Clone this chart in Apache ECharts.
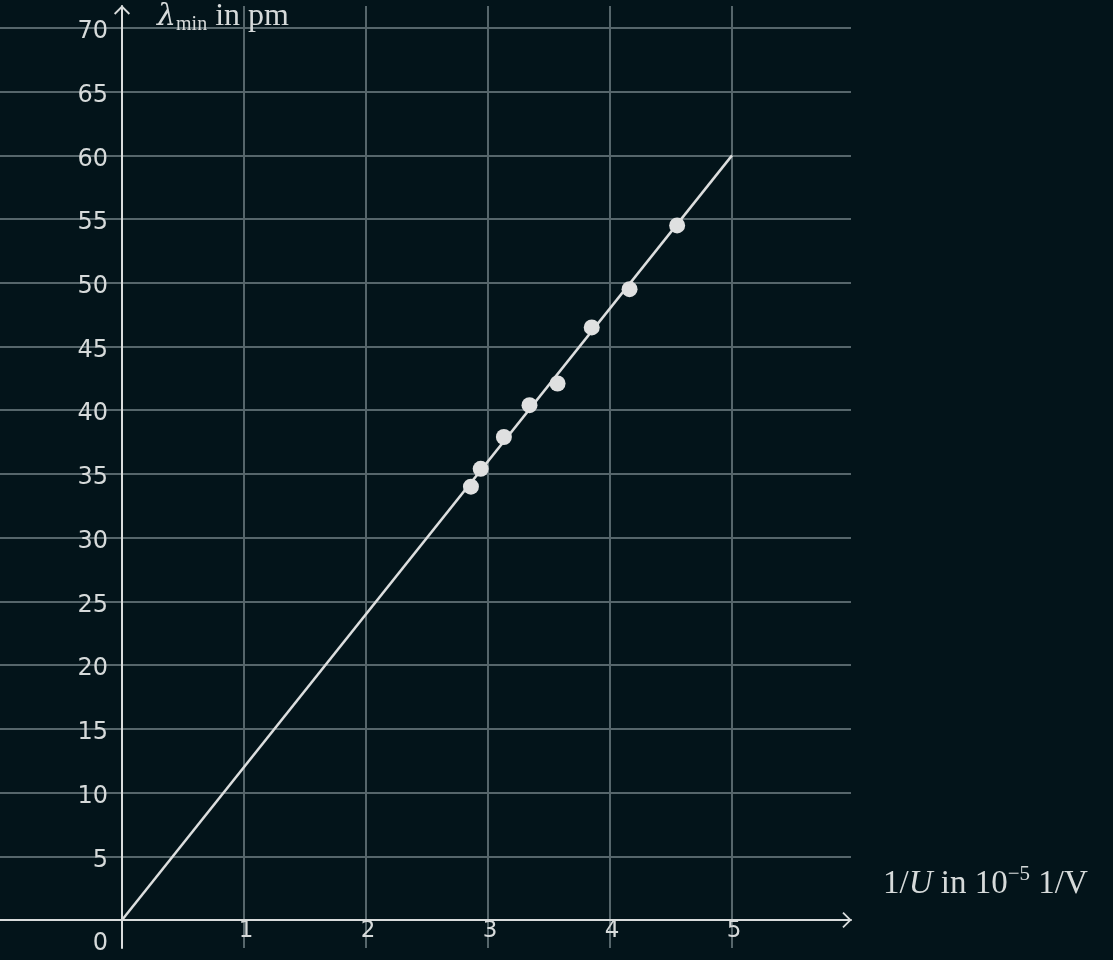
<!DOCTYPE html>
<html>
<head>
<meta charset="utf-8">
<script src="https://cdn.jsdelivr.net/npm/echarts@6/dist/echarts.min.js"></script>
<style>
html,body{margin:0;padding:0;background:#03141a;}
#main{width:1113px;height:960px;}
</style>
</head>
<body>
<div id="main"></div>
<script>
// measured points: 1/U in 10^-5 1/V, lambda_min in pm
const invU = [2.86, 2.94, 3.13, 3.34, 3.57, 3.85, 4.16, 4.55];
const lambdaMin = [34.0, 35.4, 37.9, 40.4, 42.1, 46.5, 49.5, 54.5];
// fitted line through origin
const fitX = [0, 5];
const fitY = [0, 60];
// axis ticks
const xTicks = [1, 2, 3, 4, 5];
const yTicks = [0, 5, 10, 15, 20, 25, 30, 35, 40, 45, 50, 55, 60, 65, 70];

const BG = '#03141a';
const GRID = '#56666b';
const AXIS = '#d9dcdc';
const TXT = '#d6dada';
const chevron = 'path://M10,0 L20,10 L18.4,11.6 L10,3.2 L1.6,11.6 L0,10 Z';

const chart = echarts.init(document.getElementById('main'));
chart.setOption({
  backgroundColor: BG,
  animation: false,
  grid: {left: 0, top: 6, width: 851, height: 942, containLabel: false, outerBoundsMode: 'none'},
  xAxis: {
    type: 'value',
    min: -1,
    max: 5.975,
    interval: 1,
    offset: -28,
    axisLine: {
      show: true, onZero: false,
      symbol: ['none', chevron], symbolSize: [16, 10], symbolOffset: [0, -4],
      lineStyle: {color: AXIS, width: 2}
    },
    axisTick: {show: false},
    splitLine: {show: true, showMinLine: false, showMaxLine: false, lineStyle: {color: GRID, width: 2}},
    axisLabel: {
      margin: 0,
      color: TXT,
      fontFamily: 'DejaVu Sans',
      fontSize: 23,
      padding: [0, 0, 0, 4],
      formatter: function (v) { return xTicks.indexOf(v) >= 0 ? String(v) : ''; }
    }
  },
  yAxis: {
    type: 'value',
    min: -2.197,
    max: 71.72,
    splitNumber: 15,
    minInterval: 5,
    maxInterval: 5,
    offset: -122,
    axisLine: {
      show: true, onZero: false,
      symbol: ['none', chevron], symbolSize: [16, 10], symbolOffset: [0, -4],
      lineStyle: {color: AXIS, width: 2}
    },
    axisTick: {show: false},
    splitLine: {show: true, showMinLine: false, showMaxLine: false, lineStyle: {color: GRID, width: 2}},
    axisLabel: {
      margin: 14,
      color: TXT,
      fontFamily: 'DejaVu Sans',
      fontSize: 24,
      padding: [8, 0, 0, 0],
      formatter: function (v) {
        const r = Math.round(v);
        if (Math.abs(v - r) > 1e-6 || yTicks.indexOf(r) < 0) return '';
        if (r === 0) return '{z|0}';
        return String(r);
      },
      rich: {z: {padding: [40, 0, 0, 0], fontSize: 24, color: TXT, fontFamily: 'DejaVu Sans'}}
    }
  },
  graphic: [
    {
      type: 'text', left: 157, top: 1, z: 100,
      style: {
        text: '{l|λ}{s|min}{n| in pm}',
        fill: TXT,
        rich: {
          l: {fontFamily: 'DejaVu Serif', fontStyle: 'italic', fontSize: 30, fill: TXT, lineHeight: 36},
          s: {fontFamily: 'Liberation Serif', fontSize: 20, fill: TXT, verticalAlign: 'bottom', lineHeight: 26},
          n: {fontFamily: 'Liberation Serif', fontSize: 32, fill: TXT, lineHeight: 36}
        }
      }
    },
    {
      type: 'text', left: 883, top: 864, z: 100,
      style: {
        text: '{n|1/}{i|U}{n| in 10}{p|−5}{n| 1/V}',
        fill: TXT,
        rich: {
          n: {fontFamily: 'Liberation Serif', fontSize: 33, fill: TXT, lineHeight: 40},
          i: {fontFamily: 'Liberation Serif', fontStyle: 'italic', fontSize: 33, fill: TXT, lineHeight: 40},
          p: {fontFamily: 'Liberation Serif', fontSize: 21, fill: TXT, verticalAlign: 'top', lineHeight: 26}
        }
      }
    }
  ],
  series: [
    {
      type: 'line',
      data: fitX.map((x, i) => [x, fitY[i]]),
      showSymbol: false,
      lineStyle: {color: '#dcdede', width: 2.5},
      z: 3
    },
    {
      type: 'scatter',
      data: invU.map((x, i) => [x, lambdaMin[i]]),
      symbolSize: 16,
      itemStyle: {color: '#dfe0e0', opacity: 1},
      z: 4
    }
  ]
});
</script>
</body>
</html>
